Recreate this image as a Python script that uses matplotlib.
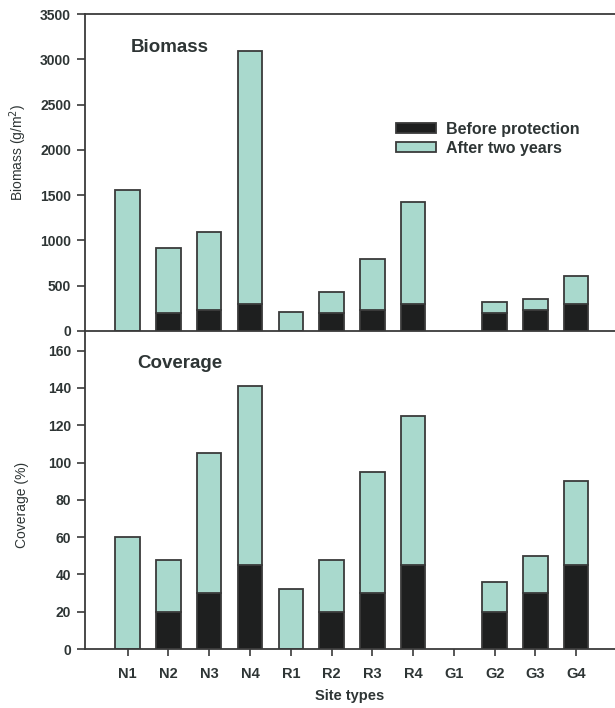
import matplotlib
matplotlib.use("Agg")
import matplotlib.pyplot as plt
import numpy as np

sites = ["N1", "N2", "N3", "N4", "R1", "R2", "R3", "R4", "G1", "G2", "G3", "G4"]
biomass_before = [0, 200, 230, 300, 0, 200, 230, 300, 0, 200, 230, 300]
biomass_total = [1560, 920, 1090, 3090, 215, 430, 795, 1430, 0, 325, 355, 610]
cover_before = [0, 20, 30, 45, 0, 20, 30, 45, 0, 20, 30, 45]
cover_total = [60, 48, 105, 141, 32, 48, 95, 125, 0, 36, 50, 90]

dark = "#1e1f1f"
teal = "#a9d9cd"
edge = "#3a3a3a"
txt = "#2e3535"

plt.rcParams["font.family"] = ["Liberation Sans", "DejaVu Sans"]

fig = plt.figure(figsize=(6.15, 7.08), dpi=100)
ax1 = fig.add_axes([0.138, 0.5325, 0.862, 0.4475])
ax2 = fig.add_axes([0.138, 0.0833, 0.862, 0.4477])

x = np.arange(len(sites))
w = 0.6


def draw(ax, before, total):
    before = np.array(before)
    after = np.array(total) - before
    has = np.array(total) > 0
    ax.bar(x[has], before[has], w, color=dark, edgecolor=edge, linewidth=1.3,
           label="Before protection")
    ax.bar(x[has], after[has], w, bottom=before[has], color=teal,
           edgecolor=edge, linewidth=1.3, label="After two years")
    ax.set_xlim(-1.05, 11.95)
    ax.spines["right"].set_visible(False)
    for s in ["left", "bottom", "top"]:
        ax.spines[s].set_color(edge)
        ax.spines[s].set_linewidth(1.3)
    ax.tick_params(axis="y", direction="out", length=6, width=1.2, color=edge,
                   labelsize=10, labelcolor=txt, pad=4)


draw(ax1, biomass_before, biomass_total)
ax1.set_ylim(0, 3500)
ax1.set_yticks(np.arange(0, 3501, 500))
for lb in ax1.get_yticklabels():
    lb.set_fontweight("bold")
ax1.set_xticks([])
ax1.set_ylabel("Biomass (g/m$^2$)", fontsize=10, color=txt)
ax1.yaxis.set_label_coords(-0.105, 0.565)
ax1.text(0.087, 0.896, "Biomass", transform=ax1.transAxes, fontsize=13.5,
         fontweight="bold", color=txt, va="center")
leg = ax1.legend(loc="upper left", bbox_to_anchor=(0.56, 0.705), frameon=False,
                 prop={"weight": "bold", "size": 11.5}, handlelength=2.5,
                 handleheight=0.6, labelspacing=0.22, handletextpad=0.6)
for t in leg.get_texts():
    t.set_color(txt)

draw(ax2, cover_before, cover_total)
ax2.spines["top"].set_visible(False)
ax2.set_ylim(0, 170)
ax2.set_yticks(np.arange(0, 161, 20))
for lb in ax2.get_yticklabels():
    lb.set_fontweight("bold")
ax2.set_xticks(x)
ax2.set_xticklabels(sites, fontweight="bold", fontsize=10.5, color=txt)
ax2.tick_params(axis="x", direction="out", length=5, width=1.2, color=edge, pad=8)
ax2.set_ylabel("Coverage (%)", fontsize=10, color=txt)
ax2.yaxis.set_label_coords(-0.105, 0.454)
ax2.set_xlabel("Site types", fontsize=10.5, fontweight="bold", color=txt, labelpad=6)
ax2.text(0.098, 0.902, "Coverage", transform=ax2.transAxes, fontsize=13.5,
         fontweight="bold", color=txt, va="center")

fig.savefig("out.png", dpi=100)
